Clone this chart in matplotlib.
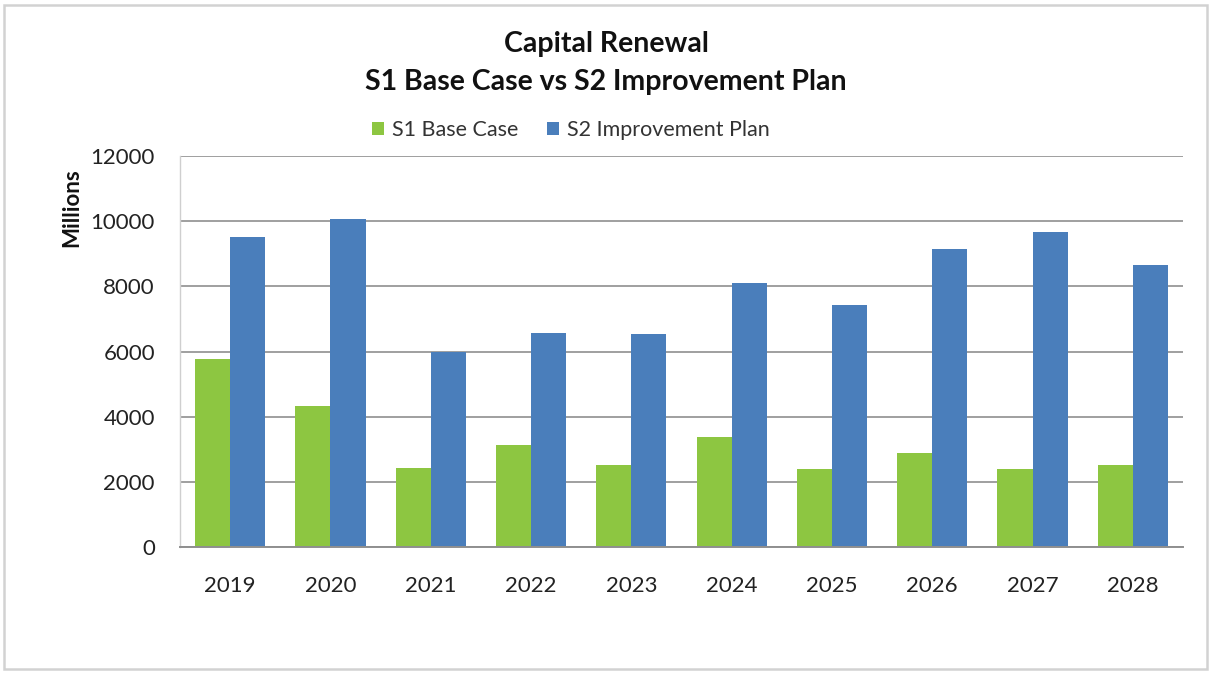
import matplotlib
matplotlib.use("Agg")
import matplotlib.pyplot as plt
from matplotlib.patches import Rectangle
import numpy as np

# Capital renewal spend by year (millions)
years = ["2019", "2020", "2021", "2022", "2023", "2024", "2025", "2026", "2027", "2028"]
s1_base_case = [5760, 4330, 2430, 3140, 2510, 3390, 2380, 2900, 2380, 2530]
s2_improvement_plan = [9520, 10060, 5990, 6580, 6530, 8090, 7420, 9140, 9670, 8670]
y_ticks = [0, 2000, 4000, 6000, 8000, 10000, 12000]

series_names = ["S1 Base Case", "S2 Improvement Plan"]
colors = ["#8DC641", "#4A7EBB"]

plt.rcParams["font.family"] = ["Lato", "DejaVu Sans"]

W, H = 1215, 673
fig = plt.figure(figsize=(W / 100, H / 100), dpi=100)
fig.patch.set_facecolor("white")

# outer chart border
fig.add_artist(Rectangle((4 / W, 1 - 669 / H), (1207 - 4) / W, (669 - 5) / H,
                         transform=fig.transFigure, fill=False,
                         edgecolor="#d2d2d2", linewidth=1.8))

ax = fig.add_axes([180 / W, 1 - 547 / H, (1183 - 180) / W, (547 - 156) / H])

x = np.arange(len(years))
bw = 0.35
ax.bar(x - bw / 2, s1_base_case, width=bw, color=colors[0], label=series_names[0], zorder=3)
ax.bar(x + bw / 2, s2_improvement_plan, width=bw, color=colors[1], label=series_names[1], zorder=3)

ax.set_xlim(-0.5, len(years) - 0.5)
ax.set_ylim(0, 12000)
ax.set_yticks(y_ticks)
ax.set_yticklabels([str(v) for v in y_ticks])
ax.set_xticks(x)
ax.set_xticklabels(years)
ax.tick_params(axis="both", length=0, labelsize=16, colors="#222222")
ax.tick_params(axis="y", pad=18)
ax.tick_params(axis="x", pad=21)

ax.yaxis.grid(True, color="#8f8f8f", linewidth=1.2, zorder=0)
ax.set_axisbelow(True)
for side in ["top", "right"]:
    ax.spines[side].set_visible(False)
ax.spines["left"].set_color("#cfcfcf")
ax.spines["left"].set_linewidth(1.0)
ax.spines["bottom"].set_color("#8f8f8f")
ax.spines["bottom"].set_linewidth(1.4)
ax.spines["bottom"].set_zorder(4)

fig.text(72 / W, 1 - 208 / H, "Millions", rotation=90, ha="center", va="center",
         fontsize=16, fontweight="bold", color="#111111")

fig.text(606 / W, 1 - 44 / H, "Capital Renewal", ha="center", va="center",
         fontsize=20.5, fontweight="bold", color="#111111")
fig.text(606 / W, 1 - 82 / H, "S1 Base Case vs S2 Improvement Plan", ha="center", va="center",
         fontsize=20.5, fontweight="bold", color="#111111")

leg = fig.legend(loc="center", bbox_to_anchor=(571 / W, 1 - 130 / H), ncol=2,
                 frameon=False, fontsize=15.5, handlelength=0.55, handleheight=0.55,
                 handletextpad=0.4, columnspacing=1.3, borderpad=0)
for t in leg.get_texts():
    t.set_color("#333333")

fig.savefig("out.png", dpi=100, facecolor="white")
